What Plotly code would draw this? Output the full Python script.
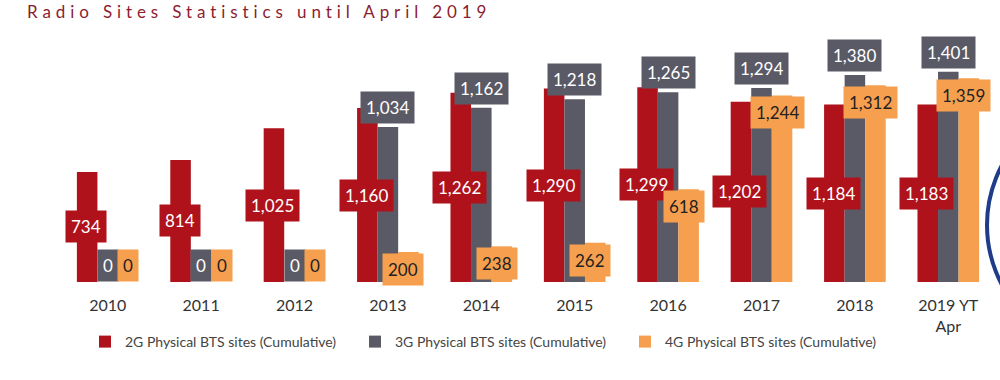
import plotly.graph_objects as go

years = ["2010", "2011", "2012", "2013", "2014", "2015", "2016", "2017", "2018", "2019 YT<br>Apr"]
g2 = [734, 814, 1025, 1160, 1262, 1290, 1299, 1202, 1184, 1183]
g3 = [0, 0, 0, 1034, 1162, 1218, 1265, 1294, 1380, 1401]
g4 = [0, 0, 0, 200, 238, 262, 618, 1244, 1312, 1359]

names = ["2G Physical BTS sites (Cumulative)", "3G Physical BTS sites (Cumulative)", "4G Physical BTS sites (Cumulative)"]
colors = ["#B0121C", "#5A5A66", "#F6A04F"]
label_text_colors = ["#FFFFFF", "#FFFFFF", "#222222"]

FONT = "Lato"
fig = go.Figure()
for name, vals, col in zip(names, [g2, g3, g4], colors):
    fig.add_trace(go.Bar(x=years, y=vals, name=name, marker_color=col, marker_line_width=0))

W, H = 1000, 380
ml, mr, mt, mb = 61, 5, 42, 98
PH = H - mt - mb
PW = W - ml - mr
bargap = 0.34
cat_px = PW / len(years)
bar_px = cat_px * (1 - bargap) / 3

ann = []
for i, y in enumerate(years):
    # 2G: centred in the bar
    ann.append(dict(x=i, y=g2[i] / 2, xref="x", yref="y", text=f"{g2[i]:,}", showarrow=False,
                    xshift=-bar_px - 1, yanchor="middle", bgcolor=colors[0], borderpad=5,
                    font=dict(family=FONT, size=17, color=label_text_colors[0])))
    # 3G: above the bar
    ann.append(dict(x=i, y=g3[i], xref="x", yref="y", text=f"{g3[i]:,}", showarrow=False,
                    xshift=0, yanchor="bottom", yshift=3 if g3[i] > 0 else 0, bgcolor=colors[1], borderpad=5,
                    font=dict(family=FONT, size=17, color=label_text_colors[1])))
    # 4G: inside end
    if g4[i] > 0:
        ann.append(dict(x=i, y=g4[i], xref="x", yref="y", text=f"{g4[i]:,}", showarrow=False,
                        xshift=bar_px - 5, yanchor="top", yshift=-1, bgcolor=colors[2], borderpad=5,
                        font=dict(family=FONT, size=17, color=label_text_colors[2])))
    else:
        ann.append(dict(x=i, y=0, xref="x", yref="y", text="0", showarrow=False,
                        xshift=bar_px, yanchor="bottom", bgcolor=colors[2], borderpad=5,
                        font=dict(family=FONT, size=17, color=label_text_colors[2])))

# decorative ring at right edge of the slide (pixels -> paper)
cx, cy, r = 1114, 225, 127
ring = dict(type="circle", xref="paper", yref="paper",
            x0=(cx - r - ml) / PW, x1=(cx + r - ml) / PW,
            y0=(H - mb - (cy + r)) / PH, y1=(H - mb - (cy - r)) / PH,
            line=dict(color="#1F3C88", width=4))

fig.update_layout(
    width=W, height=H,
    margin=dict(l=ml, r=mr, t=mt, b=mb, autoexpand=False),
    paper_bgcolor="white", plot_bgcolor="white",
    barmode="group", bargap=bargap, bargroupgap=0,
    title=dict(text='<span style="letter-spacing:4.9px">Radio Sites Statistics until April 2019</span>',
               x=0.027, xanchor="left", y=1 - 12 / H, yanchor="middle",
               font=dict(family=FONT, size=17, color="#8C1C30")),
    xaxis=dict(type="category", categoryorder="array", categoryarray=years,
               range=[-0.5, len(years) - 0.5], autorange=False, automargin=False,
               showline=False, showgrid=False, zeroline=False, ticks="",
               tickfont=dict(family=FONT, size=16, color="#333333"), ticklabelstandoff=12),
    yaxis=dict(range=[0, 1600], autorange=False, visible=False, showgrid=False, automargin=False),
    legend=dict(orientation="h", x=(490 - ml) / PW, xanchor="center", y=(H - mb - 342) / PH, yanchor="middle",
                font=dict(family=FONT, size=14, color="#444444"),
                entrywidth=225, entrywidthmode="pixels", itemwidth=30),
    annotations=ann,
    shapes=[ring],
    showlegend=True,
)
fig.write_html("out.html", config={"displayModeBar": False},
               post_script="document.body.style.margin='0';")
